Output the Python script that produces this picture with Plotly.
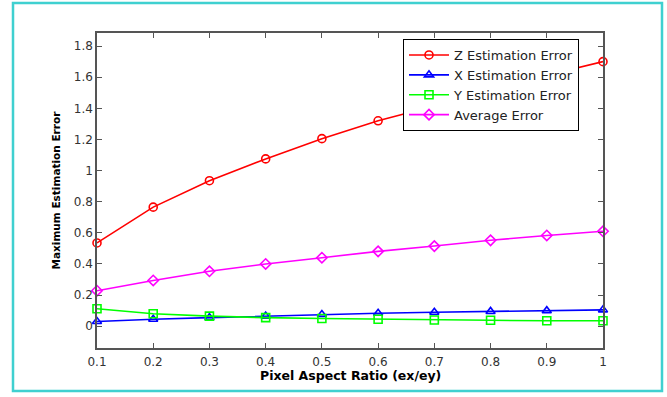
import plotly.graph_objects as go

ratio = [0.1, 0.2, 0.3, 0.4, 0.5, 0.6, 0.7, 0.8, 0.9, 1.0]
z_err = [0.535, 0.765, 0.935, 1.075, 1.205, 1.32, 1.415, 1.52, 1.612, 1.70]
x_err = [0.03, 0.045, 0.055, 0.065, 0.075, 0.083, 0.09, 0.095, 0.10, 0.105]
y_err = [0.112, 0.08, 0.065, 0.055, 0.05, 0.045, 0.04, 0.038, 0.035, 0.035]
avg_err = [0.228, 0.294, 0.353, 0.400, 0.440, 0.481, 0.515, 0.552, 0.583, 0.610]

x_title = "Pixel Aspect Ratio (ex/ey)"
y_title = "Maximum Estimation Error"

series = [
    ("Z Estimation Error", z_err, "#ff0000", "circle-open"),
    ("X Estimation Error", x_err, "#0000ff", "triangle-up-open"),
    ("Y Estimation Error", y_err, "#00ff00", "square-open"),
    ("Average Error", avg_err, "#ff00ff", "diamond-open"),
]

W, H = 667, 397
ml, mr, mt, mb = 97, 64, 33, 49
pw, ph = W - ml - mr, H - mt - mb

fig = go.Figure()
for name, vals, color, sym in series:
    fig.add_trace(go.Scatter(
        x=ratio, y=vals, name=name, mode="lines+markers",
        line=dict(color=color, width=1.6),
        marker=dict(symbol=sym, size=8, color=color, line=dict(color=color, width=1.6)),
        cliponaxis=False,
    ))

font = "DejaVu Sans, Arial, Helvetica, sans-serif"
axis_common = dict(
    showgrid=False, zeroline=False, showline=True, linecolor="#555555", linewidth=1.5,
    mirror="ticks", ticks="inside", ticklen=5, tickcolor="#555555",
    tickfont=dict(family=font, size=12, color="#333333"),
)

def px2paper_x(px):
    return (px - ml) / pw

def px2paper_y(py):
    return (H - mb - py) / ph

fig.update_layout(
    width=W, height=H,
    margin=dict(l=ml, r=mr, t=mt, b=mb),
    paper_bgcolor="white", plot_bgcolor="white",
    font=dict(family=font, size=11, color="#000000"),
    xaxis=dict(range=[0.1, 1.0], tick0=0.1, dtick=0.1, ticklabelstandoff=2, **axis_common),
    yaxis=dict(range=[-0.14, 1.884], tick0=0, dtick=0.2, **axis_common),
    legend=dict(x=px2paper_x(403), y=px2paper_y(39), xanchor="left", yanchor="top",
                bgcolor="white", bordercolor="#000000", borderwidth=1,
                font=dict(family=font, size=13, color="#222"), tracegroupgap=0,
                itemwidth=40),
    showlegend=True,
    annotations=[
        dict(text="<b>%s</b>" % x_title, xref="paper", yref="paper",
             x=0.5, y=px2paper_y(376), xanchor="center", yanchor="middle",
             showarrow=False, font=dict(family=font, size=12.5, color="#000")),
        dict(text="<b>%s</b>" % y_title, xref="paper", yref="paper",
             x=px2paper_x(55), y=0.5, xanchor="center", yanchor="middle", textangle=-90,
             showarrow=False, font=dict(family=font, size=10.5, color="#000")),
    ],
    shapes=[dict(type="rect", xref="paper", yref="paper",
                 x0=px2paper_x(13), x1=px2paper_x(662),
                 y0=px2paper_y(391), y1=px2paper_y(3),
                 line=dict(color="#3fd0d0", width=2.5), fillcolor="rgba(0,0,0,0)", layer="below")],
)

fig.write_html("out.html", config={"displayModeBar": False},
               post_script="document.body.style.margin='0';document.body.style.padding='0';document.body.style.overflow='hidden';")
